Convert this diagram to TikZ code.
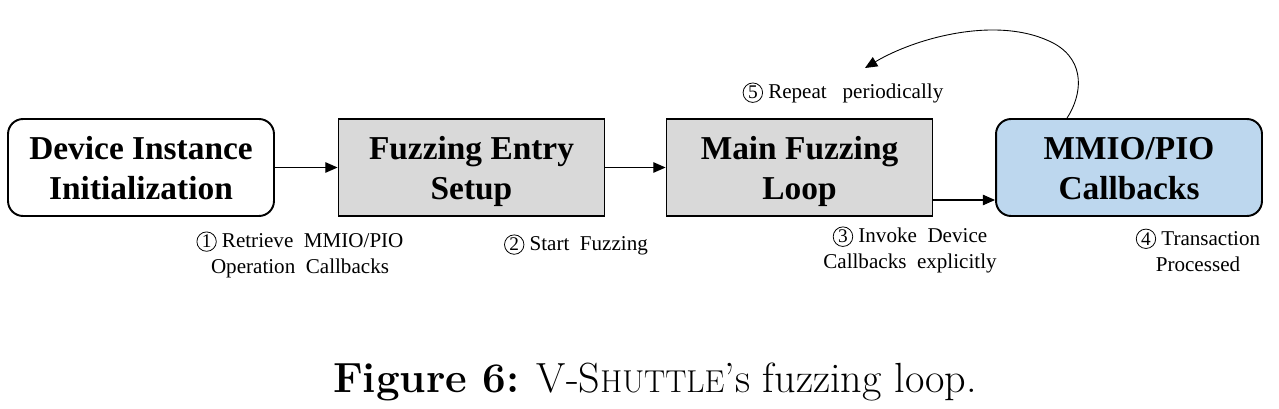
\documentclass[tikz,border=0pt]{standalone}
\usepackage{fontspec}
\setmainfont{Liberation Serif}
\newfontfamily\capfont{Latin Modern Roman}
\usepackage{tikz}
\usetikzlibrary{arrows.meta}
\usepackage{xcolor}
\definecolor{boxgray}{HTML}{D9D9D9}
\definecolor{boxblue}{HTML}{BDD7EE}

\newcommand{\stepno}[1]{\tikz[baseline=(num.base)] \node [circle, draw, line width=0.45pt,
    inner sep=0.7pt, font=\fontsize{11}{12}\selectfont] (num) {#1};}
\newcommand{\smallcap}[1]{{\fontsize{18}{20}\selectfont #1}}
\newcommand{\topstrut}{\rule{0pt}{20.5pt}}

\begin{document}
\begin{tikzpicture}[x=0.02cm, y=-0.02cm,
        stage/.style={draw, line width=1.1pt, minimum width=5.32cm, minimum height=1.94cm,
            align=center, inner sep=0pt, font=\fontsize{19}{22.8}\selectfont\bfseries},
        soft/.style={stage, rounded corners=0.3cm},
        flow/.style={-{Triangle[length=7pt,width=6pt]}, line width=0.6pt},
        note/.style={align=center, font=\fontsize{12}{14.8}\selectfont}]
        \useasboundingbox (0,0) rectangle (1279,409);
        % Stages
        \node [soft, fill=white] (init) at (141,167.5) {\topstrut Device Instance\\Initialization\strut};
        \node [stage, fill=boxgray] (setup) at (471.5,167.5) {\topstrut Fuzzing Entry\\Setup\strut};
        \node [stage, fill=boxgray] (loop) at (799.5,167.5) {\topstrut Main Fuzzing\\Loop\strut};
        \node [soft, fill=boxblue] (mmio) at (1129,167.5) {\topstrut MMIO/PIO\\Callbacks\strut};
        % Arrows
        \draw [flow] (init) -- (setup);
        \draw [flow] (setup) -- (loop);
        \coordinate (invoke) at ([yshift=-0.65cm]loop.east);
        \draw [flow] (invoke) -- (invoke -| mmio.west);
        % Loop back
        \coordinate (loopstart) at ([xshift=1.44cm]mmio.north west);
        \coordinate (looptip) at (865,68);
        \draw [flow, line width=0.5pt] (loopstart) .. controls (1082,95) and (1086,62) .. (1055,44)
            .. controls (1000,14) and (915,38) .. (looptip);
        % Step labels
        \node [note] (retrieve) at (300,255) {\stepno{1} Retrieve~ MMIO/PIO\\Operation~ Callbacks};
        \node [note] (start) at (576,245) {\stepno{2} Start~ Fuzzing};
        \node [note] (repeat) at (843,93) {\stepno{5} Repeat~~ periodically};
        \node [note] (callnote) at (910,250) {\stepno{3} Invoke~ Device\\Callbacks~ explicitly};
        \node [note] (processed) at (1198,250) {\stepno{4} Transaction\\Processed};
        % Caption
        \node [font=\capfont\fontsize{24}{27}\selectfont] (caption) at (655,382)
            {\textbf{Figure 6:} V-S\smallcap{HUTTLE}’s fuzzing loop.};
\end{tikzpicture}
\end{document}
